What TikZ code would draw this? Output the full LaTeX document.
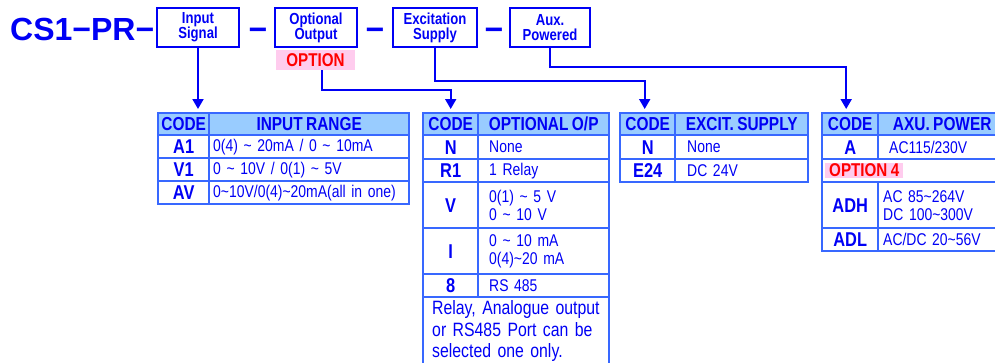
\documentclass[tikz,border=0pt]{standalone}
\usepackage{fontspec}
\setmainfont{Liberation Sans}[FakeStretch=0.82, WordSpace=0.8]
\newfontfamily\titlefont{Liberation Sans}
\usetikzlibrary{arrows.meta}

\definecolor{ink}{RGB}{0,0,245}
\definecolor{grid}{RGB}{56,104,255}
\definecolor{headfill}{RGB}{153,204,255}
\definecolor{tagpink}{RGB}{255,204,238}
\definecolor{tagred}{RGB}{255,0,0}
\newcommand\tld{\textasciitilde}
\newcommand\valspace[1]{\spaceskip=#1\relax}

\tikzset{
  fieldbox/.style={draw=ink, line width=2pt, minimum width=82pt, minimum height=39pt,
    inner sep=0pt, align=center, text=ink, font=\fontsize{16}{15}\selectfont\bfseries},
  tagbox/.style={fill=tagpink, text=tagred, inner sep=0pt,
    font=\fontsize{18.5}{18.5}\selectfont\bfseries},
  joiner/.style={anchor=base, text=ink, inner sep=0pt,
    font=\titlefont\fontsize{32}{32}\selectfont\bfseries},
  cell/.style={draw=grid, line width=2.4pt, anchor=north west, inner sep=0pt, text=ink},
  hdcell/.style={cell, fill=headfill, minimum height=22pt,
    font=\fontsize{18.8}{18.8}\selectfont\bfseries},
  codecell/.style={cell, font=\fontsize{20}{20}\selectfont\bfseries},
  valcell/.style={cell, align=left, font=\fontsize{17}{18}\selectfont\valspace{3.4pt}},
  inval/.style={valcell, minimum width=200pt, text width=192pt, inner xsep=4pt},
  outval/.style={valcell, minimum width=131pt, text width=109pt, inner xsep=11pt},
  excval/.style={valcell, minimum width=133pt, text width=109pt, inner xsep=12pt},
  auxval/.style={valcell, minimum width=128pt, text width=118pt, inner xsep=5pt},
  link/.style={draw=ink, line width=2pt, -{Triangle[width=11pt,length=10pt]}, shorten >=3pt},
}

\begin{document}
\begin{tikzpicture}[x=1pt, y=-1pt]
  \useasboundingbox (0,0) rectangle (995,362);

  % model code line
  \node[anchor=base west, text=ink, inner sep=0pt,
    font=\titlefont\fontsize{32}{32}\selectfont\bfseries] (title) at (10,40) {CS1−PR−};
  \node[fieldbox] (inBox) at (198,27.5) {Input\\Signal};
  \node[joiner] (j1) at (258,40) {−};
  \node[fieldbox] (optBox) at (316,27.5) {Optional\\Output};
  \node[joiner] (j2) at (375,40) {−};
  \node[fieldbox, minimum width=84pt] (excBox) at (435,27.5) {Excitation\\Supply};
  \node[joiner] (j3) at (494,40) {−};
  \node[fieldbox, minimum width=80pt] (auxBox) at (550,27.5) {Aux.\\Powered};
  \node[tagbox, minimum width=79pt, minimum height=20pt] (optTag) at (315.5,60) {OPTION};

  % input signal
  \node[hdcell, minimum width=51pt] (inCode) at (157,112) {CODE};
  \node[hdcell, minimum width=200pt] (inHead) at (208,112) {INPUT RANGE};
  \node[codecell, minimum width=51pt, minimum height=23pt] (inA1) at (157,134) {A1};
  \node[inval, minimum height=23pt] (inA1v) at (208,134) {0(4) \tld{} 20mA / 0 \tld{} 10mA};
  \node[codecell, minimum width=51pt, minimum height=23pt] (inV1) at (157,157) {V1};
  \node[inval, minimum height=23pt] (inV1v) at (208,157) {0 \tld{} 10V / 0(1) \tld{} 5V};
  \node[codecell, minimum width=51pt, minimum height=23pt] (inAV) at (157,180) {AV};
  \node[inval, minimum height=23pt] (inAVv) at (208,180) {0\tld{}10V/0(4)\tld{}20mA(all in one)};

  % optional output
  \node[hdcell, minimum width=55pt] (outCode) at (422,112) {CODE};
  \node[hdcell, minimum width=131pt] (outHead) at (477,112) {OPTIONAL O/P};
  \node[codecell, minimum width=55pt, minimum height=24pt] (outN) at (422,134) {N};
  \node[outval, minimum height=24pt] (outNv) at (477,134) {None};
  \node[codecell, minimum width=55pt, minimum height=23pt] (outR1) at (422,158) {R1};
  \node[outval, minimum height=23pt] (outR1v) at (477,158) {1 Relay};
  \node[codecell, minimum width=55pt, minimum height=46pt] (outV) at (422,181) {V};
  \node[outval, minimum height=46pt] (outVv) at (477,181) {0(1) \tld{} 5 V\\0 \tld{} 10 V};
  \node[codecell, minimum width=55pt, minimum height=46pt] (outI) at (422,227) {I};
  \node[outval, minimum height=46pt] (outIv) at (477,227) {0 \tld{} 10 mA\\0(4)\tld{}20 mA};
  \node[codecell, minimum width=55pt, minimum height=23pt] (out8) at (422,273) {8};
  \node[outval, minimum height=23pt] (out8v) at (477,273) {RS 485};
  \node[valcell, minimum width=186pt, text width=168pt, inner xsep=9pt, minimum height=68pt,
    font=\fontsize{19.3}{21.5}\selectfont\valspace{4.2pt}] (outNote) at (422,296)
    {Relay, Analogue output\\or RS485 Port can be\\selected one only.};

  % excitation supply
  \node[hdcell, minimum width=55pt] (excCode) at (619,112) {CODE};
  \node[hdcell, minimum width=133pt] (excHead) at (674,112) {EXCIT. SUPPLY};
  \node[codecell, minimum width=55pt, minimum height=24pt] (excN) at (619,134) {N};
  \node[excval, minimum height=24pt] (excNv) at (674,134) {None};
  \node[codecell, minimum width=55pt, minimum height=23pt] (excE24) at (619,158) {E24};
  \node[excval, minimum height=23pt] (excE24v) at (674,158) {DC 24V};

  % aux power
  \node[hdcell, minimum width=56pt] (auxCode) at (821,112) {CODE};
  \node[hdcell, minimum width=128pt] (auxHead) at (877,112) {AXU. POWER};
  \node[codecell, minimum width=56pt, minimum height=24pt] (auxA) at (821,134) {A};
  \node[auxval, minimum height=24pt] (auxAv) at (877,134) {\hspace{6pt}AC115/230V};
  \node[cell, minimum width=184pt, minimum height=23pt] (auxOpt) at (821,158) {};
  \node[tagbox, anchor=west, minimum width=78pt, minimum height=15pt] (opt4) at (825,170.5) {OPTION 4};
  \node[codecell, minimum width=56pt, minimum height=46pt] (auxADH) at (821,181) {ADH};
  \node[auxval, minimum height=46pt] (auxADHv) at (877,181) {AC 85\tld{}264V\\DC 100\tld{}300V};
  \node[codecell, minimum width=56pt, minimum height=23pt] (auxADL) at (821,227) {ADL};
  \node[auxval, minimum height=23pt] (auxADLv) at (877,227) {AC/DC 20\tld{}56V};

  % connectors
  \draw[link] (inBox.south) -- (inBox.south |- inCode.north);
  \draw[link] ([xshift=6pt]optTag.south) -- ++(0,20) -| (outCode.north);
  \draw[link] (excBox.south) -- ++(0,33) -| ([xshift=-3pt]excCode.north);
  \draw[link] (auxBox.south) -- ++(0,19) -| ([xshift=-4pt]auxCode.north);
\end{tikzpicture}
\end{document}
